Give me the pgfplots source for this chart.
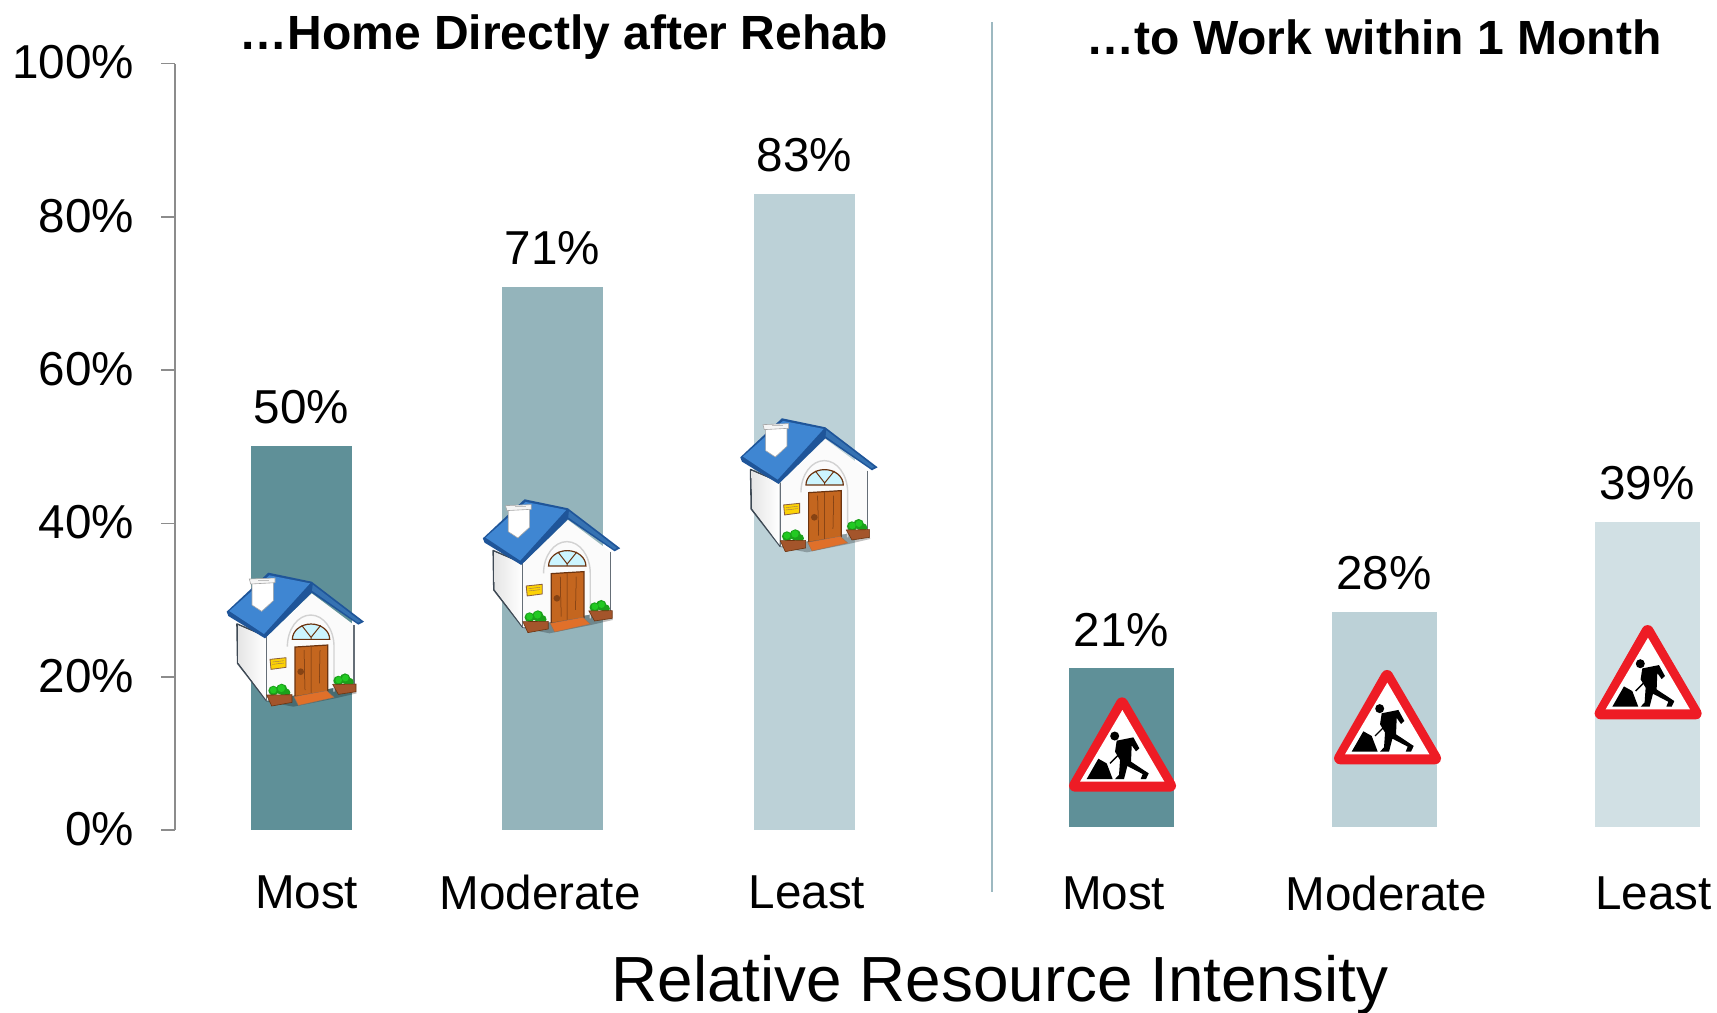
\documentclass[border=0pt]{standalone}
\usepackage{fontspec}
\setmainfont{Liberation Sans}
\usepackage{pgfplots}
\pgfplotsset{compat=1.18}
\definecolor{barA}{HTML}{5F9098}
\definecolor{barB}{HTML}{94B4BB}
\definecolor{barC}{HTML}{BCD1D7}
\definecolor{barD}{HTML}{D1E0E4}
\definecolor{axgray}{HTML}{8C8C8C}
\definecolor{divline}{HTML}{9DB9C1}
\definecolor{roofA}{HTML}{3F86D2}
\definecolor{roofD}{HTML}{1F5599}
\definecolor{wallD}{HTML}{3F4A55}
\definecolor{doorC}{HTML}{C4661F}
\definecolor{doorD}{HTML}{6B3410}
\definecolor{stepC}{HTML}{E0702A}
\definecolor{potC}{HTML}{A4552B}
\definecolor{leaf}{HTML}{22C922}
\definecolor{signR}{HTML}{EE1C25}
\newcommand{\lab}{\fontsize{23.8}{28}\selectfont}
\newcommand{\house}[2]{%
\begin{scope}[shift={(#1,#2)},x=0.1667pt,y=-0.1667pt]
 \fill[black,opacity=.25] (172,455)--(250,470)--(375,445)--(440,430)--(430,400)--(170,440)--cycle;
 \fill[white!88!gray,draw=wallD,line width=.8pt,line join=round] (81,222)--(170,260)--(170,452)--(83,340)--cycle;
 \shade[left color=white!80!gray,right color=white] (84,226)--(168,262)--(168,448)--(86,338)--cycle;
 \fill[white!97!gray] (170,260)--(305,130)--(432,225)--(432,402)--(170,452)--cycle;
 \draw[wallD!80,line width=.6pt] (432,225)--(432,402);
 \draw[wallD!80,line width=.5pt] (170,262)--(170,452);
 \draw[gray!35,line width=.7pt] (232,290) arc[start angle=180,end angle=360,x radius=70,y radius=95] -- (372,425);
 \fill[roofD,line join=round] (50,185)--(175,68)--(305,95)--(462,215)--(445,224)--(305,128)--(165,265)--(55,198)--cycle;
 \fill[roofA,line join=round] (58,183)--(178,76)--(300,100)--(162,252)--cycle;
 \fill[roofA!85!black] (308,104)--(452,214)--(444,218)--(306,122)--cycle;
 \fill[white,draw=gray!70,line width=.3pt] (126,95)--(190,95)--(190,152)--(155,184)--(126,165)--cycle;
 \fill[white!92!gray,draw=gray!70,line width=.3pt] (118,87)--(195,84)--(195,98)--(122,102)--cycle;
 \fill[black!25] (145,89) rectangle (178,92);
 \fill[blue!20!cyan!20!white,draw=doorD,line width=.6pt] (247,268) arc[start angle=180,end angle=360,x radius=56,y radius=46]--cycle;
 \draw[doorD,line width=.5pt] (303,262)--(275,226) (303,262)--(332,226) (303,262)--(303,268);
 \fill[doorC,draw=doorD,line width=.6pt] (255,291)--(353,285)--(353,424)--(255,440)--cycle;
 \draw[doorD,line width=.25pt] (303,290)--(303,430) (282,300)--(285,420) (330,300)--(328,400);
 \fill[doorD!70!doorC] (272,365) circle (10);
 \fill[stepC,draw=doorD!70,line width=.2pt] (252,440)--(350,422)--(372,442)--(265,466)--cycle;
 \fill[yellow!70!orange,draw=doorD!80,line width=.4pt] (180,328)--(228,323)--(228,352)--(183,358)--cycle;
 \draw[doorD!70,line width=.2pt] (187,336)--(222,332) (187,343)--(222,339);
 \fill[leaf!80!black] (190,422) circle (15) (215,418) circle (17) (228,428) circle (13);
 \fill[leaf] (190,420) circle (10) (214,415) circle (11);
 \fill[potC,draw=doorD,line width=.3pt] (170,435)--(246,434)--(246,457)--(185,468)--cycle;
 \fill[leaf!80!black] (385,392) circle (15) (405,386) circle (16) (418,396) circle (13);
 \fill[leaf] (386,390) circle (10) (406,384) circle (10);
 \fill[potC,draw=doorD,line width=.3pt] (368,403)--(438,402)--(438,425)--(385,433)--cycle;
\end{scope}}
\newcommand{\roadsign}[2]{%
\begin{scope}[shift={(#1,#2)},x=0.1667pt,y=-0.1667pt]
 \fill[signR,draw=signR,line width=6pt,line join=round] (216,70)--(75,317)--(360,317)--cycle;
 \fill[white] (217,90)--(90,305)--(343,305)--cycle;
 \fill[black] (194,168) circle (13.5);
 \fill[black] (110,297)--(145,236)--(170,250)--(188,297)--cycle;
 \fill[black,line join=round] (200,182)--(250,172)--(268,205)--(258,214)--(245,196)--(243,245)--(296,280)--(288,297)--(272,297)--(278,282)--(232,258)--(222,297)--(195,297)--(207,284)--(210,240)--(195,215)--cycle;
 \draw[black,line width=.7pt] (218,212)--(180,250);
\end{scope}}
\begin{document}
\begin{tikzpicture}[x=0.5pt,y=-0.5pt]
\useasboundingbox (0,0) rectangle (1717,1012);
\pgfplotsset{
  common/.style={
    scale only axis, clip=false, ybar, ymin=0, ymax=100, enlargelimits=false,
    axis x line*=bottom, axis y line*=left,
    axis line style={-,draw=axgray,line width=.8pt},
    x axis line style={draw=none},
    x tick style={draw=none},
    y tick style={draw=axgray,line width=.8pt},
    tick align=outside, major tick length=7pt,
    xtick pos=bottom, ytick pos=left,
    height=383.25pt,
    /pgf/bar shift=0pt,
    point meta=explicit symbolic,
    nodes near coords,
    every node near coord/.append style={font=\lab,text=black,anchor=center,yshift=19.2pt},
    yticklabel style={font=\lab,text=black,anchor=east,xshift=-10pt,yshift=.5pt},
  }
}
\begin{axis}[common, at={(87.6pt,-415pt)}, anchor=origin, xmin=175.2, xmax=900, width=362.4pt,
  xticklabel style={font=\lab,text=black,anchor=center,yshift=-24pt},
  xtick={306.6,540,807}, xticklabels={Most,Moderate,Least},
  ytick={0,20,40,60,80,100}, yticklabels={0\%,20\%,40\%,60\%,80\%,100\%}]
\addplot[fill=barA,draw=none,bar width=50.4pt] coordinates {(301.3,50.1)[50\%]};
\addplot[fill=barB,draw=none,bar width=50.4pt] coordinates {(552.3,70.9)[71\%]};
\addplot[fill=barC,draw=none,bar width=50.8pt] coordinates {(804.3,83)[83\%]};
\end{axis}
\begin{axis}[common, at={(500pt,-413.5pt)}, anchor=origin, xmin=1000, xmax=1717, width=358.5pt,
  hide y axis,
  xticklabel style={font=\lab,text=black,anchor=center,yshift=-26.1pt},
  xtick={1113.6,1386,1653.5}, xticklabels={Most,Moderate,Least}]
\addplot[fill=barA,draw=none,bar width=52.5pt] coordinates {(1121.3,20.7)[21\%]};
\addplot[fill=barC,draw=none,bar width=52.5pt] coordinates {(1384,28.1)[28\%]};
\addplot[fill=barD,draw=none,bar width=52.5pt] coordinates {(1647,39.8)[39\%]};
\end{axis}
\draw[divline,line width=1pt] (991.5,22)--(991.5,892);
\node[font=\bfseries\fontsize{24}{28}\selectfont] at (563.5,37) {…Home Directly after Rehab};
\node[font=\bfseries\fontsize{24}{28}\selectfont] at (1374,37) {…to Work within 1 Month};
\node[font=\fontsize{31.9}{36}\selectfont] at (1000,985) {Relative Resource Intensity};
\house{210}{550}
\house{466.2}{476.6}
\house{723.6}{395.6}
\roadsign{1050}{680}
\roadsign{1315}{652.6}
\roadsign{1575.6}{607.7}
\end{tikzpicture}
\end{document}
